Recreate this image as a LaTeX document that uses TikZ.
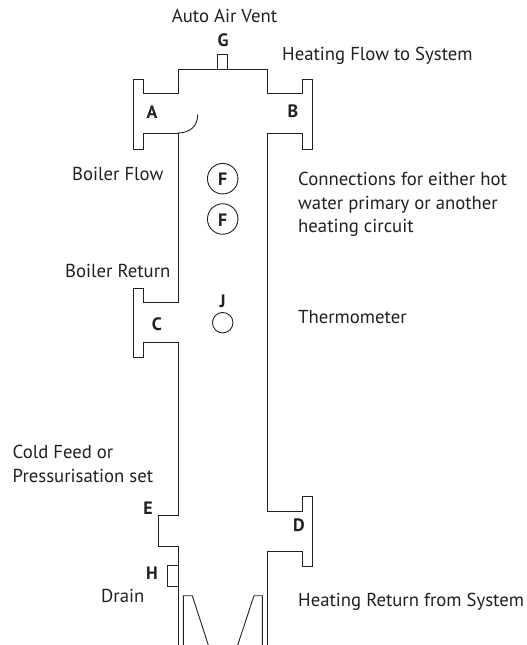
\documentclass[tikz,border=0pt]{standalone}
\usepackage{fontspec}
\setmainfont{PT Sans}
\definecolor{ink}{HTML}{231F20}
\tikzset{
  x=1bp,y=-1bp,
  pipe/.style={draw=ink,line width=0.9bp,line join=miter},
  lab/.style={anchor=base west,inner sep=0pt,text=ink,font=\fontsize{18.8}{22}\selectfont,align=left},
  tag/.style={anchor=base,inner sep=0pt,text=ink,font=\fontsize{18}{22}\selectfont\bfseries},
  gauge/.style={circle,draw=ink,line width=0.9bp,inner sep=0pt,minimum size=20.5bp},
  fcirc/.style={circle,draw=ink,line width=0.9bp,inner sep=0pt,minimum size=30.5bp},
}
\begin{document}
\begin{tikzpicture}
\useasboundingbox (0,0) rectangle (527,645);
% vessel outline
\draw[pipe] (178,645) -- (178,546.7) -- (158,546.7) -- (158,515.3) -- (178,515.3) -- (178,342.7) -- (143.5,342.7) -- (143.5,357.7) -- (133.5,357.7) -- (133.5,288) -- (143.5,288) -- (143.5,302.7) -- (178,302.7) -- (178,133) -- (143.5,133) -- (143.5,149) -- (133.5,149) -- (133.5,79) -- (143.5,79) -- (143.5,93) -- (178,93) -- (178,69) -- (267,69) -- (267,93) -- (302,93) -- (302,79) -- (312.7,79) -- (312.7,149) -- (302,149) -- (302,133) -- (267,133) -- (267,511) -- (302,511) -- (302,496) -- (312.7,496) -- (312.7,566) -- (302,566) -- (302,551.7) -- (267,551.7) -- (267,645);
% vent, drain, dip pipe
\draw[pipe] (217.7,69) -- (217.7,54.3) -- (227.7,54.3) -- (227.7,69);
\draw[pipe] (178,565.7) -- (167.7,565.7) -- (167.7,586.7) -- (178,586.7);
\draw[pipe] (178,133) .. controls (190,133) and (197.7,126) .. (197.7,114.7);
\draw[pipe] (183.3,645) -- (183.3,595.7) -- (192.3,595.7) -- (208.3,645);
\draw[pipe] (262.3,645) -- (262.3,595.7) -- (254,595.7) -- (237.7,645);
% circles
\node[fcirc] (f1) at (222.7,178.7) {};
\node[fcirc] (f2) at (222.7,219) {};
\node[gauge] (j) at (222.7,322.7) {};
% tags
\node[tag] (ft1) at (222.7,186) {F};
\node[tag] (ft2) at (222.7,226) {F};
\node[tag] (g) at (223,46.7) {G};
\node[tag] (a) at (152,119) {A};
\node[tag] (b) at (293,117.3) {B};
\node[tag] (c) at (157,330.7) {C};
\node[tag] (jt) at (222.7,307) {J};
\node[tag] (e) at (148,514) {E};
\node[tag] (d) at (299,531.7) {D};
\node[tag] (h) at (152,579) {H};
% labels
\node[lab] (t1) at (171.7,22.7) {Auto Air Vent};
\node[lab] (t2) at (282,61) {Heating Flow to System};
\node[lab] (t3) at (72,180.5) {Boiler Flow};
\node[lab] (t4) at (65,277.7) {Boiler Return};
\node[lab] (t5) at (298,323) {Thermometer};
\node[lab] (t6) at (298,606) {Heating Return from System};
\node[lab] (t7) at (101,602) {Drain};
\node[lab] (t8) at (298,186) {Connections for either hot};
\node[lab] (t9) at (298,209) {water primary or another};
\node[lab] (t10) at (298,232) {heating circuit};
\node[lab] (t11) at (12.5,458) {Cold Feed or};
\node[lab] (t12) at (12.5,482) {Pressurisation set};
\end{tikzpicture}
\end{document}
